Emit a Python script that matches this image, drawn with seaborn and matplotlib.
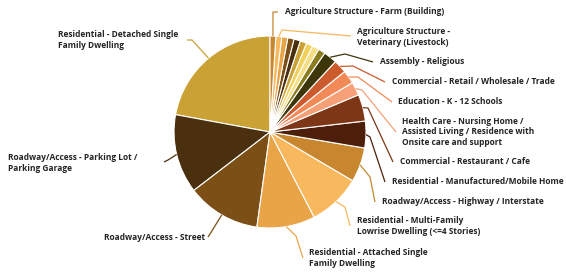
import matplotlib
matplotlib.use("Agg")
import matplotlib.pyplot as plt
import seaborn as sns
import numpy as np

# ---- data (share of total; ordered as drawn, counter-clockwise from 12 o'clock)
categories = [
    "Residential - Detached Single\nFamily Dwelling",
    "Roadway/Access - Parking Lot /\nParking Garage",
    "Roadway/Access - Street",
    "Residential - Attached Single\nFamily Dwelling",
    "Residential - Multi-Family\nLowrise Dwelling (<=4 Stories)",
    "Roadway/Access - Highway / Interstate",
    "Residential - Manufactured/Mobile Home",
    "Commercial - Restaurant / Cafe",
    "Health Care - Nursing Home /\nAssisted Living / Residence with\nOnsite care and support",
    "Education - K - 12 Schools",
    "Commercial - Retail / Wholesale / Trade",
    "Assembly - Religious",
    "", "", "", "", "", "", "",
    "Agriculture Structure -\nVeterinary (Livestock)",
    "Agriculture Structure - Farm (Building)",
]
values = [22.1, 13.3, 12.4, 9.8, 8.9, 5.8, 4.5, 4.5, 2.25, 2.25, 2.25, 2.25,
          1.2, 1.15, 1.1, 1.1, 1.08, 1.05, 1.03, 0.98, 0.97]
palette = ["#C9A135", "#4B300F", "#7B4F16", "#EAA448", "#F8B85E", "#C8862F",
           "#4D1F0B", "#7D3616", "#F5A077", "#F28A58", "#CB5A2D", "#3E360B",
           "#8B7B1F", "#F6DE85", "#F2D05C"]
colors = [palette[i % len(palette)] for i in range(len(values))]

# label layout: (text x, text y [image px], ha, leader points after the rim point)
W, H = 566, 274
CX, CY, R = 270, 132, 96
label_layout = {
    0: (58, 40, "left", [(192, 40), (187, 40)]),
    1: (8, 163, "left", [(168, 160), (164, 162)]),
    2: (205, 237, "right", [(210, 234), (208, 237)]),
    3: (309, 258, "left", [(296, 236), (303, 258)]),
    4: (357, 226, "left", [(345, 207), (350, 226)]),
    5: (382, 202, "left", [(370, 177), (375, 202)]),
    6: (392, 182, "left", [(370, 137), (385, 182)]),
    7: (400, 162, "left", [(368, 108), (393, 162)]),
    8: (402, 132, "left", [(362, 90), (396, 132)]),
    9: (398, 102, "left", [(358, 77), (392, 102)]),
    10: (392, 82, "left", [(353, 66), (385, 82)]),
    11: (380, 62, "left", [(345, 54), (373, 62)]),
    19: (357, 37, "left", [(282, 30), (351, 36)]),
    20: (285, 12, "left", [(273, 12), (278, 12)]),
}

sns.set_style("white")
plt.rcParams["font.family"] = ["Open Sans", "DejaVu Sans"]

fig = plt.figure(figsize=(W / 100, H / 100), dpi=100)
ax = fig.add_axes([0, 0, 1, 1])
wedges, _ = ax.pie(values, colors=sns.color_palette(colors), startangle=90,
                   counterclock=True, center=(CX, H - CY), radius=R,
                   wedgeprops=dict(edgecolor="white", linewidth=0.8))
ax.set_xlim(0, W)
ax.set_ylim(0, H)
ax.set_aspect("equal")
ax.axis("off")

for i, (tx, ty, ha, pts) in label_layout.items():
    w = wedges[i]
    mid = np.deg2rad((w.theta1 + w.theta2) / 2)
    rx = CX + R * np.cos(mid)
    ry = (H - CY) + R * np.sin(mid)
    xs = [rx] + [p[0] for p in pts]
    ys = [ry] + [H - p[1] for p in pts]
    ax.plot(xs, ys, color=colors[i], lw=0.9, solid_capstyle="butt")
    ax.text(tx, H - ty, categories[i], ha=ha, va="center", fontsize=6.0,
            fontweight="bold", color="#252423", linespacing=1.25)

fig.savefig("out.png", dpi=100)
